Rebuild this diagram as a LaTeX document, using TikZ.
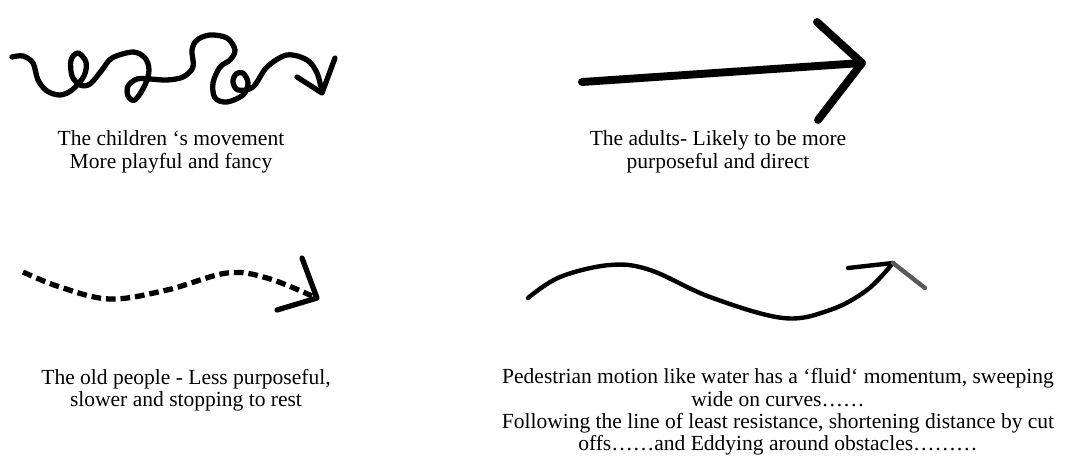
\documentclass[tikz,border=0pt]{standalone}
\usepackage{fontspec}
\setmainfont{Liberation Serif}
\usetikzlibrary{positioning}

\begin{document}
\begin{tikzpicture}[
    x=0.02cm, y=-0.02cm,
    font=\fontsize{12.25}{12.8}\selectfont,
    caption/.style={
        align=center,
        inner sep=0pt
    },
    ink/.style={line width=3pt, line cap=round, line join=round},
    thick ink/.style={line width=4.5pt, line cap=round, line join=round},
    dash ink/.style={line width=3pt, dash pattern=on 5.5pt off 2.8pt},
    thin ink/.style={line width=2.5pt, line cap=round, line join=round}
]

\useasboundingbox (0,0) rectangle (1069,460);

\draw[ink] plot[smooth, tension=0.55] coordinates {
    (12,57) (23,56) (33,63) (38,80) (47,91) (60,95) (72,90)
    (84,76) (86,62) (78,53) (71,60) (72,76) (80,85) (90,84)
    (102,70) (112,58) (133,52) (145,58) (149,70) (145,85)
    (135,100) (128,96) (128,86) (137,79) (150,79) (167,80)
    (183,77) (193,67) (192,50) (197,40) (210,35) (227,38)
    (235,50) (230,60) (220,67) (213,83) (215,98) (227,102)
    (243,95) (248,83) (243,73) (236,74) (233,82) (238,90)
    (253,87) (267,67) (287,55) (307,60) (317,73) (322,92)};
\draw[ink] (297,77) -- (322,93) -- (335,58);

\draw[thick ink] (582,82) -- (862,63);
\draw[thick ink] (817,22) -- (862,63) -- (818,120);

\draw[dash ink] plot[smooth, tension=0.6] coordinates {
    (23,272) (60,287) (110,299) (167,290) (227,273) (267,278) (312,296)};
\draw[ink] (302,258) -- (317,298) -- (277,310);

\draw[thin ink] plot[smooth, tension=0.6] coordinates {
    (528,298) (560,277) (610,265) (650,270) (710,297)
    (783,318) (830,310) (867,290) (893,263)};
\draw[thin ink] (848,268) -- (893,263);
\draw[thin ink, black!65] (893,263) -- (925,288);

\node[caption] (kids)   at (171,152) {The children ‘s movement\\More playful and fancy};
\node[caption] (adults) at (718,152) {The adults- Likely to be more\\purposeful and direct};
\node[caption] (old)    at (186,390) {The old people - Less purposeful,\\slower and stopping to rest};
\node[caption] (fluid)  at (778,412) {Pedestrian motion like water has a ‘fluid‘ momentum, sweeping\\wide on curves……\\Following the line of least resistance, shortening distance by cut\\offs……and Eddying around obstacles………};

\end{tikzpicture}
\end{document}
